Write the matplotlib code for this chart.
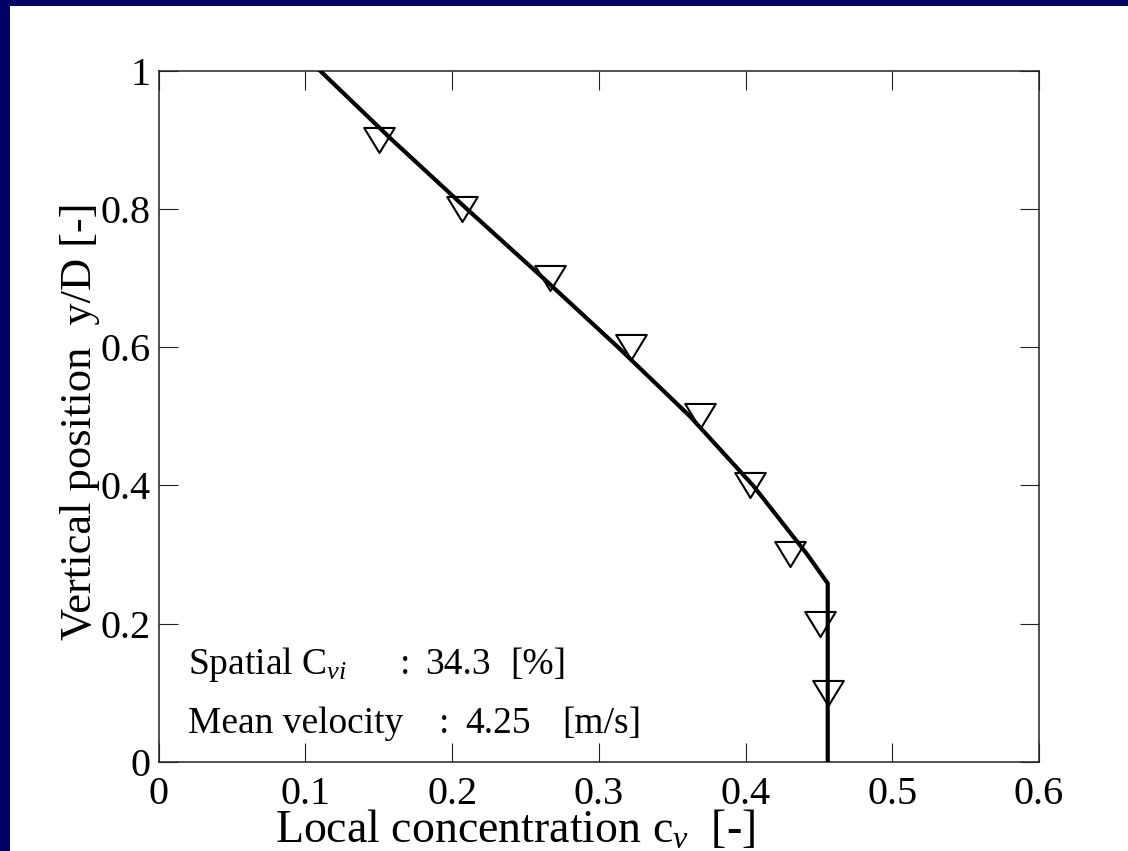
import matplotlib
matplotlib.use("Agg")
from matplotlib import pyplot as plt
from matplotlib.patches import Rectangle
from matplotlib.path import Path

plt.rcParams['font.family'] = 'Liberation Serif'
plt.rcParams['mathtext.fontset'] = 'custom'
plt.rcParams['mathtext.rm'] = 'Liberation Serif'
plt.rcParams['mathtext.it'] = 'Liberation Serif:italic'

# measured concentration profile (open triangles)
y_meas = [0.9, 0.8, 0.7, 0.6, 0.5, 0.4, 0.3, 0.2, 0.1]
c_meas = [0.150, 0.207, 0.267, 0.322, 0.369, 0.403, 0.430, 0.451, 0.456]

# calculated profile (solid line)
y_calc = [1.0, 0.9, 0.8, 0.7, 0.6, 0.5, 0.4, 0.3, 0.258, 0.0]
c_calc = [0.110, 0.159, 0.210, 0.262, 0.313, 0.362, 0.405, 0.442, 0.456, 0.456]

xticks = [0, 0.1, 0.2, 0.3, 0.4, 0.5, 0.6]
yticks = [0, 0.2, 0.4, 0.6, 0.8, 1.0]
xtick_labels = ['0', '0.1', '0.2', '0.3', '0.4', '0.5', '0.6']
ytick_labels = ['0', '0.2', '0.4', '0.6', '0.8', '1']

W, H = 1128, 851
fig = plt.figure(figsize=(W / 100, H / 100), dpi=100, facecolor='#000066')

def fx(px):
    return px / W

def fy(py):
    return 1 - py / H

# white slide panel, kept behind the axes
fig.patches.append(Rectangle((fx(10), 0), 1 - fx(10), fy(6), transform=fig.transFigure,
                             facecolor='white', edgecolor='none', zorder=-10))

ax = fig.add_axes([fx(158.7), fy(761.7), fx(1039) - fx(158.7), fy(70.7) - fy(761.7)])
ax.set_zorder(5)
ax.set_facecolor('white')

ax.plot(c_calc, y_calc, color='black', lw=3, solid_joinstyle='miter', zorder=3)

tri = Path([(-1, 0.82), (1, 0.82), (0, -0.82), (-1, 0.82)],
           [Path.MOVETO, Path.LINETO, Path.LINETO, Path.CLOSEPOLY])
ax.plot(c_meas, y_meas, linestyle='none', marker=tri, markersize=22,
        markerfacecolor='none', markeredgecolor='black', markeredgewidth=1.5, zorder=4,
        clip_on=False)

ax.set_xlim(0, 0.6)
ax.set_ylim(0, 1)
ax.set_xticks(xticks)
ax.set_xticklabels(xtick_labels)
ax.set_yticks(yticks)
ax.set_yticklabels(ytick_labels)
ax.tick_params(direction='in', length=13.5, width=0.8, top=True, right=True,
               labelsize=29, color='#222222')
ax.tick_params(axis='x', pad=10.5)
ax.tick_params(axis='y', pad=6)
for s in ax.spines.values():
    s.set_linewidth(1.1)
    s.set_color('#222222')

# axis titles
fig.text(fx(515), fy(853), r'Local concentration c$_{\mathit{v}}$  [-]', fontsize=33,
         ha='center', va='bottom', zorder=6)
fig.text(fx(80), fy(421), 'Vertical position  y/D [-]', fontsize=32, rotation=90,
         ha='center', va='center', zorder=6)

# run conditions
fs = 27
notes = [(674, r'Spatial C$_{\mathit{vi}}$', 400, '34.3', 425, '[%]', 510),
         (733, 'Mean velocity', 439, '4.25', 465, '[m/s]', 562)]
for yb, name, xc, val, xv, unit, xu in notes:
    fig.text(fx(188), fy(yb), name, fontsize=fs, va='baseline', zorder=6)
    fig.text(fx(xc), fy(yb), ':', fontsize=fs, va='baseline', zorder=6)
    fig.text(fx(xv), fy(yb), val, fontsize=fs, va='baseline', zorder=6)
    fig.text(fx(xu), fy(yb), unit, fontsize=fs, va='baseline', zorder=6)

fig.savefig('out.png', dpi=100, facecolor=fig.get_facecolor())
